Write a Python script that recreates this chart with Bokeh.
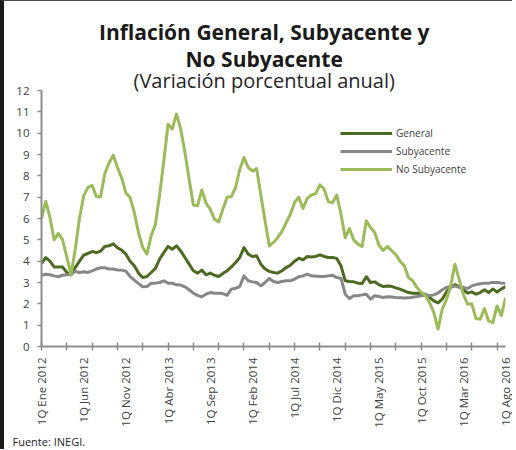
import math
from bokeh.plotting import figure
from bokeh.models import FixedTicker, Range1d, Label, Legend, LegendItem, Title
from bokeh.embed import file_html
from bokeh.resources import INLINE

# ---- data (biweekly, 1Q Ene 2012 .. 1Q Ago 2016) ----
general = [3.90, 4.17, 4.00, 3.73, 3.73, 3.73, 3.47, 3.36, 3.70, 4.00,
           4.28, 4.36, 4.45, 4.40, 4.47, 4.69, 4.72, 4.81, 4.63, 4.52,
           4.33, 4.00, 3.78, 3.44, 3.23, 3.28, 3.47, 3.66, 4.10, 4.40,
           4.69, 4.56, 4.72, 4.48, 4.17, 3.86, 3.55, 3.44, 3.58, 3.36,
           3.44, 3.34, 3.28, 3.42, 3.55, 3.73, 3.94, 4.17, 4.64, 4.33,
           4.22, 4.25, 3.86, 3.63, 3.52, 3.47, 3.44, 3.55, 3.70, 3.81,
           4.00, 4.14, 4.06, 4.22, 4.20, 4.22, 4.30, 4.22, 4.17, 4.17,
           4.13, 3.78, 3.08, 3.05, 3.03, 2.97, 2.95, 3.27, 3.00, 3.03,
           2.90, 2.81, 2.84, 2.82, 2.75, 2.69, 2.61, 2.53, 2.50, 2.50,
           2.47, 2.45, 2.30, 2.14, 2.05, 2.22, 2.56, 2.77, 2.90, 2.81,
           2.66, 2.50, 2.56, 2.45, 2.53, 2.66, 2.53, 2.69, 2.56, 2.69,
           2.81]
subyacente = [3.34, 3.39, 3.36, 3.31, 3.27, 3.34, 3.36, 3.39, 3.52, 3.47,
              3.50, 3.47, 3.55, 3.63, 3.69, 3.69, 3.63, 3.63, 3.59, 3.58,
              3.53, 3.28, 3.11, 2.95, 2.80, 2.81, 2.97, 2.97, 3.00, 3.08,
              2.97, 2.97, 2.89, 2.88, 2.80, 2.66, 2.50, 2.40, 2.33, 2.45,
              2.53, 2.50, 2.50, 2.48, 2.40, 2.69, 2.73, 2.81, 3.31, 3.08,
              3.03, 3.00, 2.84, 3.00, 3.19, 3.05, 3.00, 3.05, 3.08, 3.08,
              3.16, 3.27, 3.31, 3.39, 3.31, 3.30, 3.28, 3.28, 3.31, 3.34,
              3.23, 3.19, 2.45, 2.25, 2.38, 2.38, 2.42, 2.45, 2.22, 2.38,
              2.34, 2.30, 2.33, 2.32, 2.30, 2.29, 2.27, 2.28, 2.31, 2.34,
              2.38, 2.41, 2.38, 2.42, 2.50, 2.66, 2.77, 2.81, 2.84, 2.77,
              2.77, 2.72, 2.84, 2.90, 2.94, 2.97, 2.97, 3.00, 3.00, 2.98,
              2.97]
no_subyacente = [6.00, 6.80, 6.05, 5.00, 5.30, 5.00, 4.20, 3.36, 4.56, 6.00,
                 7.06, 7.45, 7.56, 7.03, 7.02, 8.10, 8.60, 8.97, 8.40, 7.90,
                 7.20, 6.98, 6.28, 5.34, 4.64, 4.33, 5.19, 5.73, 7.10, 8.70,
                 10.42, 10.20, 10.90, 10.20, 9.10, 7.84, 6.63, 6.60, 7.34, 6.72,
                 6.44, 5.97, 5.84, 6.44, 7.00, 7.03, 7.45, 8.30, 8.86, 8.40,
                 8.23, 8.34, 7.10, 5.90, 4.72, 4.88, 5.10, 5.40, 5.80, 6.20,
                 6.75, 7.00, 6.47, 6.94, 7.10, 7.17, 7.58, 7.38, 6.78, 6.75,
                 7.10, 6.20, 5.10, 5.53, 5.00, 4.80, 4.69, 5.89, 5.58, 5.34,
                 4.75, 4.50, 4.69, 4.50, 4.30, 4.00, 3.78, 3.23, 3.08, 2.77,
                 2.53, 2.40, 2.06, 1.60, 0.81, 1.75, 2.20, 2.84, 3.86, 3.16,
                 2.45, 1.98, 2.00, 1.31, 1.28, 1.78, 1.20, 1.12, 1.90, 1.44,
                 2.28]
tick_labels = ["1Q Ene 2012", "1Q Jun 2012", "1Q Nov 2012", "1Q Abr 2013",
               "1Q Sep 2013", "1Q Feb 2014", "1Q Jul 2014", "1Q Dic 2014",
               "1Q May 2015", "1Q Oct 2015", "1Q Mar 2016", "1Q Ago 2016"]
y_ticks = list(range(0, 13))
series_names = ["General", "Subyacente", "No Subyacente"]

LABEL_STEP = 10
MINOR_STEP = 6
FONT = "Open Sans"
AXIS_COLOR = "#8C8C8C"
TEXT_COLOR = "#404040"
COLORS = ["#4D6A21", "#878787", "#9BBB59"]

n = len(general)
x = list(range(n))

# canvas is drawn inside a frame border (4px left, 1px top)
BORDER_L, BORDER_T = 4, 1
W, H = 516 - BORDER_L, 450 - BORDER_T
FRAME_BOTTOM = 346 - BORDER_T
Y_TOP = FRAME_BOTTOM / (256 / 12)

p = figure(width=W, height=H, output_backend="svg", toolbar_location=None,
           title_location=None,
           x_range=Range1d(0, n - 1), y_range=Range1d(0, Y_TOP),
           min_border_left=41 - BORDER_L, min_border_right=11,
           min_border_top=0, min_border_bottom=H - FRAME_BOTTOM)
p.styles = {"border-left": f"{BORDER_L}px solid #1A1A1A",
            "border-top": f"{BORDER_T}px solid #4A4A4A"}
p.background_fill_color = "white"
p.border_fill_color = "white"
p.outline_line_color = None
p.grid.visible = False

renderers = []
for vals, col in zip([general, subyacente, no_subyacente], COLORS):
    r = p.line(x, vals, line_color=col, line_width=3, line_join="round")
    renderers.append(r)

# x axis
xa = p.xaxis[0]
xa.ticker = FixedTicker(ticks=list(range(0, n, LABEL_STEP)),
                        minor_ticks=list(range(0, n, MINOR_STEP)))
xa.major_label_overrides = {i * LABEL_STEP: lab for i, lab in enumerate(tick_labels)}
xa.major_label_orientation = math.pi / 2
xa.major_tick_in = 0
xa.major_tick_out = 0
xa.minor_tick_in = 4
xa.minor_tick_out = 4
xa.minor_tick_line_color = AXIS_COLOR
xa.minor_tick_line_width = 1.5
xa.axis_line_color = AXIS_COLOR
xa.axis_line_width = 2
xa.major_label_standoff = 7
xa.major_label_text_font = FONT
xa.major_label_text_font_size = "11.5px"
xa.major_label_text_color = TEXT_COLOR

# y axis
ya = p.yaxis[0]
ya.ticker = FixedTicker(ticks=y_ticks)
ya.bounds = (y_ticks[0], y_ticks[-1])
ya.major_tick_in = 0
ya.major_tick_out = 4
ya.minor_tick_in = 0
ya.minor_tick_out = 0
ya.major_tick_line_color = AXIS_COLOR
ya.major_tick_line_width = 1.5
ya.axis_line_color = AXIS_COLOR
ya.axis_line_width = 2
ya.major_label_standoff = 8
ya.major_label_text_font = FONT
ya.major_label_text_font_size = "11.5px"
ya.major_label_text_color = TEXT_COLOR

# legend
legend = Legend(items=[LegendItem(label=nm, renderers=[r]) for nm, r in zip(series_names, renderers)],
                location=(299, 168), orientation="vertical",
                glyph_width=52, glyph_height=18, label_height=18,
                spacing=0, padding=0, margin=0, label_standoff=4,
                border_line_color=None, background_fill_alpha=0,
                label_text_font=FONT, label_text_font_size="10px",
                label_text_color=TEXT_COLOR)
p.add_layout(legend)

# titles
p.add_layout(Label(x=52.8, y=14.75, text="Inflación General, Subyacente y",
                   text_align="center", text_baseline="alphabetic",
                   text_font=FONT, text_font_style="bold", text_font_size="21px",
                   text_color="#1A1A1A"))
p.add_layout(Label(x=52.8, y=13.49, text="No Subyacente",
                   text_align="center", text_baseline="alphabetic",
                   text_font=FONT, text_font_style="bold", text_font_size="21px",
                   text_color="#1A1A1A"))
p.add_layout(Label(x=52.8, y=12.49, text="(Variación porcentual anual)",
                   text_align="center", text_baseline="alphabetic",
                   text_font=FONT, text_font_size="20px",
                   text_color="#262626"))

# source note below the axis
p.add_layout(Title(text="Fuente: INEGI.", align="left", offset=-29,
                   text_font=FONT, text_font_size="11px", text_font_style="normal",
                   text_color="#262626", standoff=2), "below")

open("out.html", "w").write(file_html(p, INLINE))
